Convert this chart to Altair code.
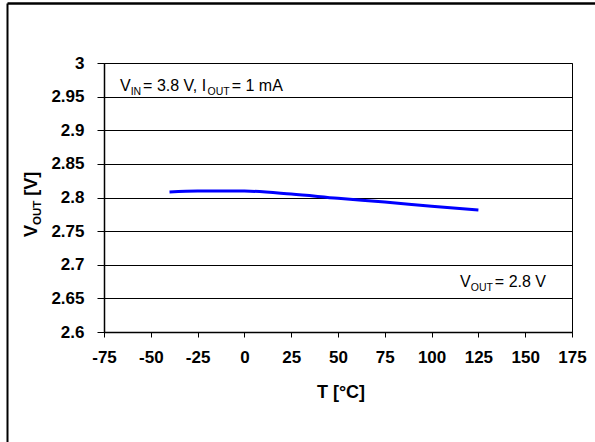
import altair as alt
import pandas as pd

# ---- data ----
temps = [-40, -25, 0, 25, 50, 75, 100, 125]
vout = [2.808, 2.8095, 2.8095, 2.8052, 2.7988, 2.7933, 2.787, 2.7814]
x_ticks = [-75, -50, -25, 0, 25, 50, 75, 100, 125, 150, 175]
y_ticks = [2.6, 2.65, 2.7, 2.75, 2.8, 2.85, 2.9, 2.95, 3.0]

df = pd.DataFrame({"T": temps, "V": vout})

# ---- layout ----
L, TOP = 104, 63
W, H = 468, 269
FONT = "Liberation Sans"

REG = {" ": 278, "=": 584, ".": 278, ",": 278, "V": 667, "I": 278, "N": 722,
       "O": 778, "U": 722, "T": 611, "m": 833, "A": 667, "[": 278, "]": 278}
BOLD = {" ": 278, "V": 667, "O": 778, "U": 722, "T": 611, "[": 333, "]": 333,
        ".": 278}


def tw(s, size, bold=False):
    tab = BOLD if bold else REG
    return sum(tab.get(c, 556) for c in s) * size / 1000.0


def seg_text(text, x, y, size, bold=False, angle=0):
    kw = dict(font=FONT, fontSize=size, color="black", align="left",
              baseline="alphabetic", fontWeight="bold" if bold else "normal")
    if angle:
        kw["angle"] = angle
    return alt.Chart(pd.DataFrame({"a": [0]})).mark_text(**kw).encode(
        x=alt.value(x), y=alt.value(y), text=alt.value(text))


def rich_h(segs, x0, y0, main=16, sub=10.5, sub_dy=3.5):
    """segs: (text, is_subscript, leading_gap_in_em_of_main)"""
    layers = []
    x = x0
    for t, is_sub, gap in segs:
        s = sub if is_sub else main
        x += gap * main
        layers.append(seg_text(t, x, y0 + (sub_dy if is_sub else 0), s))
        x += tw(t, s)
    return layers


def rich_h_width(segs, main=16, sub=10.5):
    return sum(tw(t, sub if s else main) + g * main for t, s, g in segs)


AX = dict(labelFont=FONT, labelFontSize=17, labelFontWeight="bold",
          labelColor="black", labelFlush=False, labelOverlap=False,
          tickColor="black", tickWidth=1, domainColor="black",
          domainWidth=1.5, title=None)

# ---- main line ----
line = alt.Chart(df).mark_line(color="#0000FF", strokeWidth=3,
                               interpolate="monotone").encode(
    x=alt.X("T:Q", scale=alt.Scale(domain=[-75, 175], nice=False),
            axis=alt.Axis(values=x_ticks, grid=False, tickSize=5,
                          labelPadding=12,
                          labelExpr="datum.value < 0 ? '-' + format(-datum.value, 'd') : format(datum.value, 'd')",
                          **AX)),
    y=alt.Y("V:Q", scale=alt.Scale(domain=[2.6, 3.0], nice=False, zero=False),
            axis=alt.Axis(values=y_ticks, format=".3~g", grid=True,
                          gridColor="black", gridWidth=1, gridOpacity=1,
                          tickSize=7, labelPadding=13, **AX)),
)

one = pd.DataFrame({"a": [0]})
# page frame (top and left edges)
frame_top = alt.Chart(one).mark_rule(color="black", strokeWidth=2.5).encode(
    x=alt.value(7.5 - L), x2=alt.value(595 - L), y=alt.value(3.5 - TOP))
frame_left = alt.Chart(one).mark_rule(color="black", strokeWidth=2).encode(
    x=alt.value(7.5 - L), y=alt.value(3.5 - TOP), y2=alt.value(442 - TOP))

layers = [line, frame_top, frame_left]

# annotation: V_IN = 3.8 V, I_OUT = 1 mA
segs1 = [("V", False, 0), ("IN", True, 0), ("= 3.8 V, I", False, 0.12),
         ("OUT", True, 0), ("= 1 mA", False, 0.12)]
layers += rich_h(segs1, 120 - L, 91 - TOP)

# annotation: V_OUT = 2.8 V (right aligned at x=545)
segs2 = [("V", False, 0), ("OUT", True, 0), ("= 2.8 V", False, 0.12)]
layers += rich_h(segs2, 546 - L - rich_h_width(segs2), 287 - TOP)

# x title
layers.append(alt.Chart(one).mark_text(
    font=FONT, fontSize=18, fontWeight="bold", color="black", align="center",
    baseline="alphabetic").encode(x=alt.value(341 - L), y=alt.value(398 - TOP),
                                  text=alt.value("T [°C]")))

# y title, rotated, with subscript
yb = 237 - TOP
bx = 37 - L
layers.append(seg_text("V", bx, yb, 18, bold=True, angle=270))
yb -= tw("V", 18, True)
layers.append(seg_text("OUT", bx + 3.5, yb, 11.5, bold=True, angle=270))
yb -= tw("OUT", 11.5, True) + tw(" ", 18, True)
layers.append(seg_text("[V]", bx, yb, 18, bold=True, angle=270))

chart = alt.layer(*layers).properties(
    width=W, height=H,
    autosize=alt.AutoSizeParams(type="none"),
    padding={"left": L, "top": TOP, "right": 595 - L - W,
             "bottom": 442 - TOP - H},
    background="white",
).configure_view(stroke="black", strokeWidth=1)

chart.save("out.html", embed_options={"renderer": "svg", "actions": False})
